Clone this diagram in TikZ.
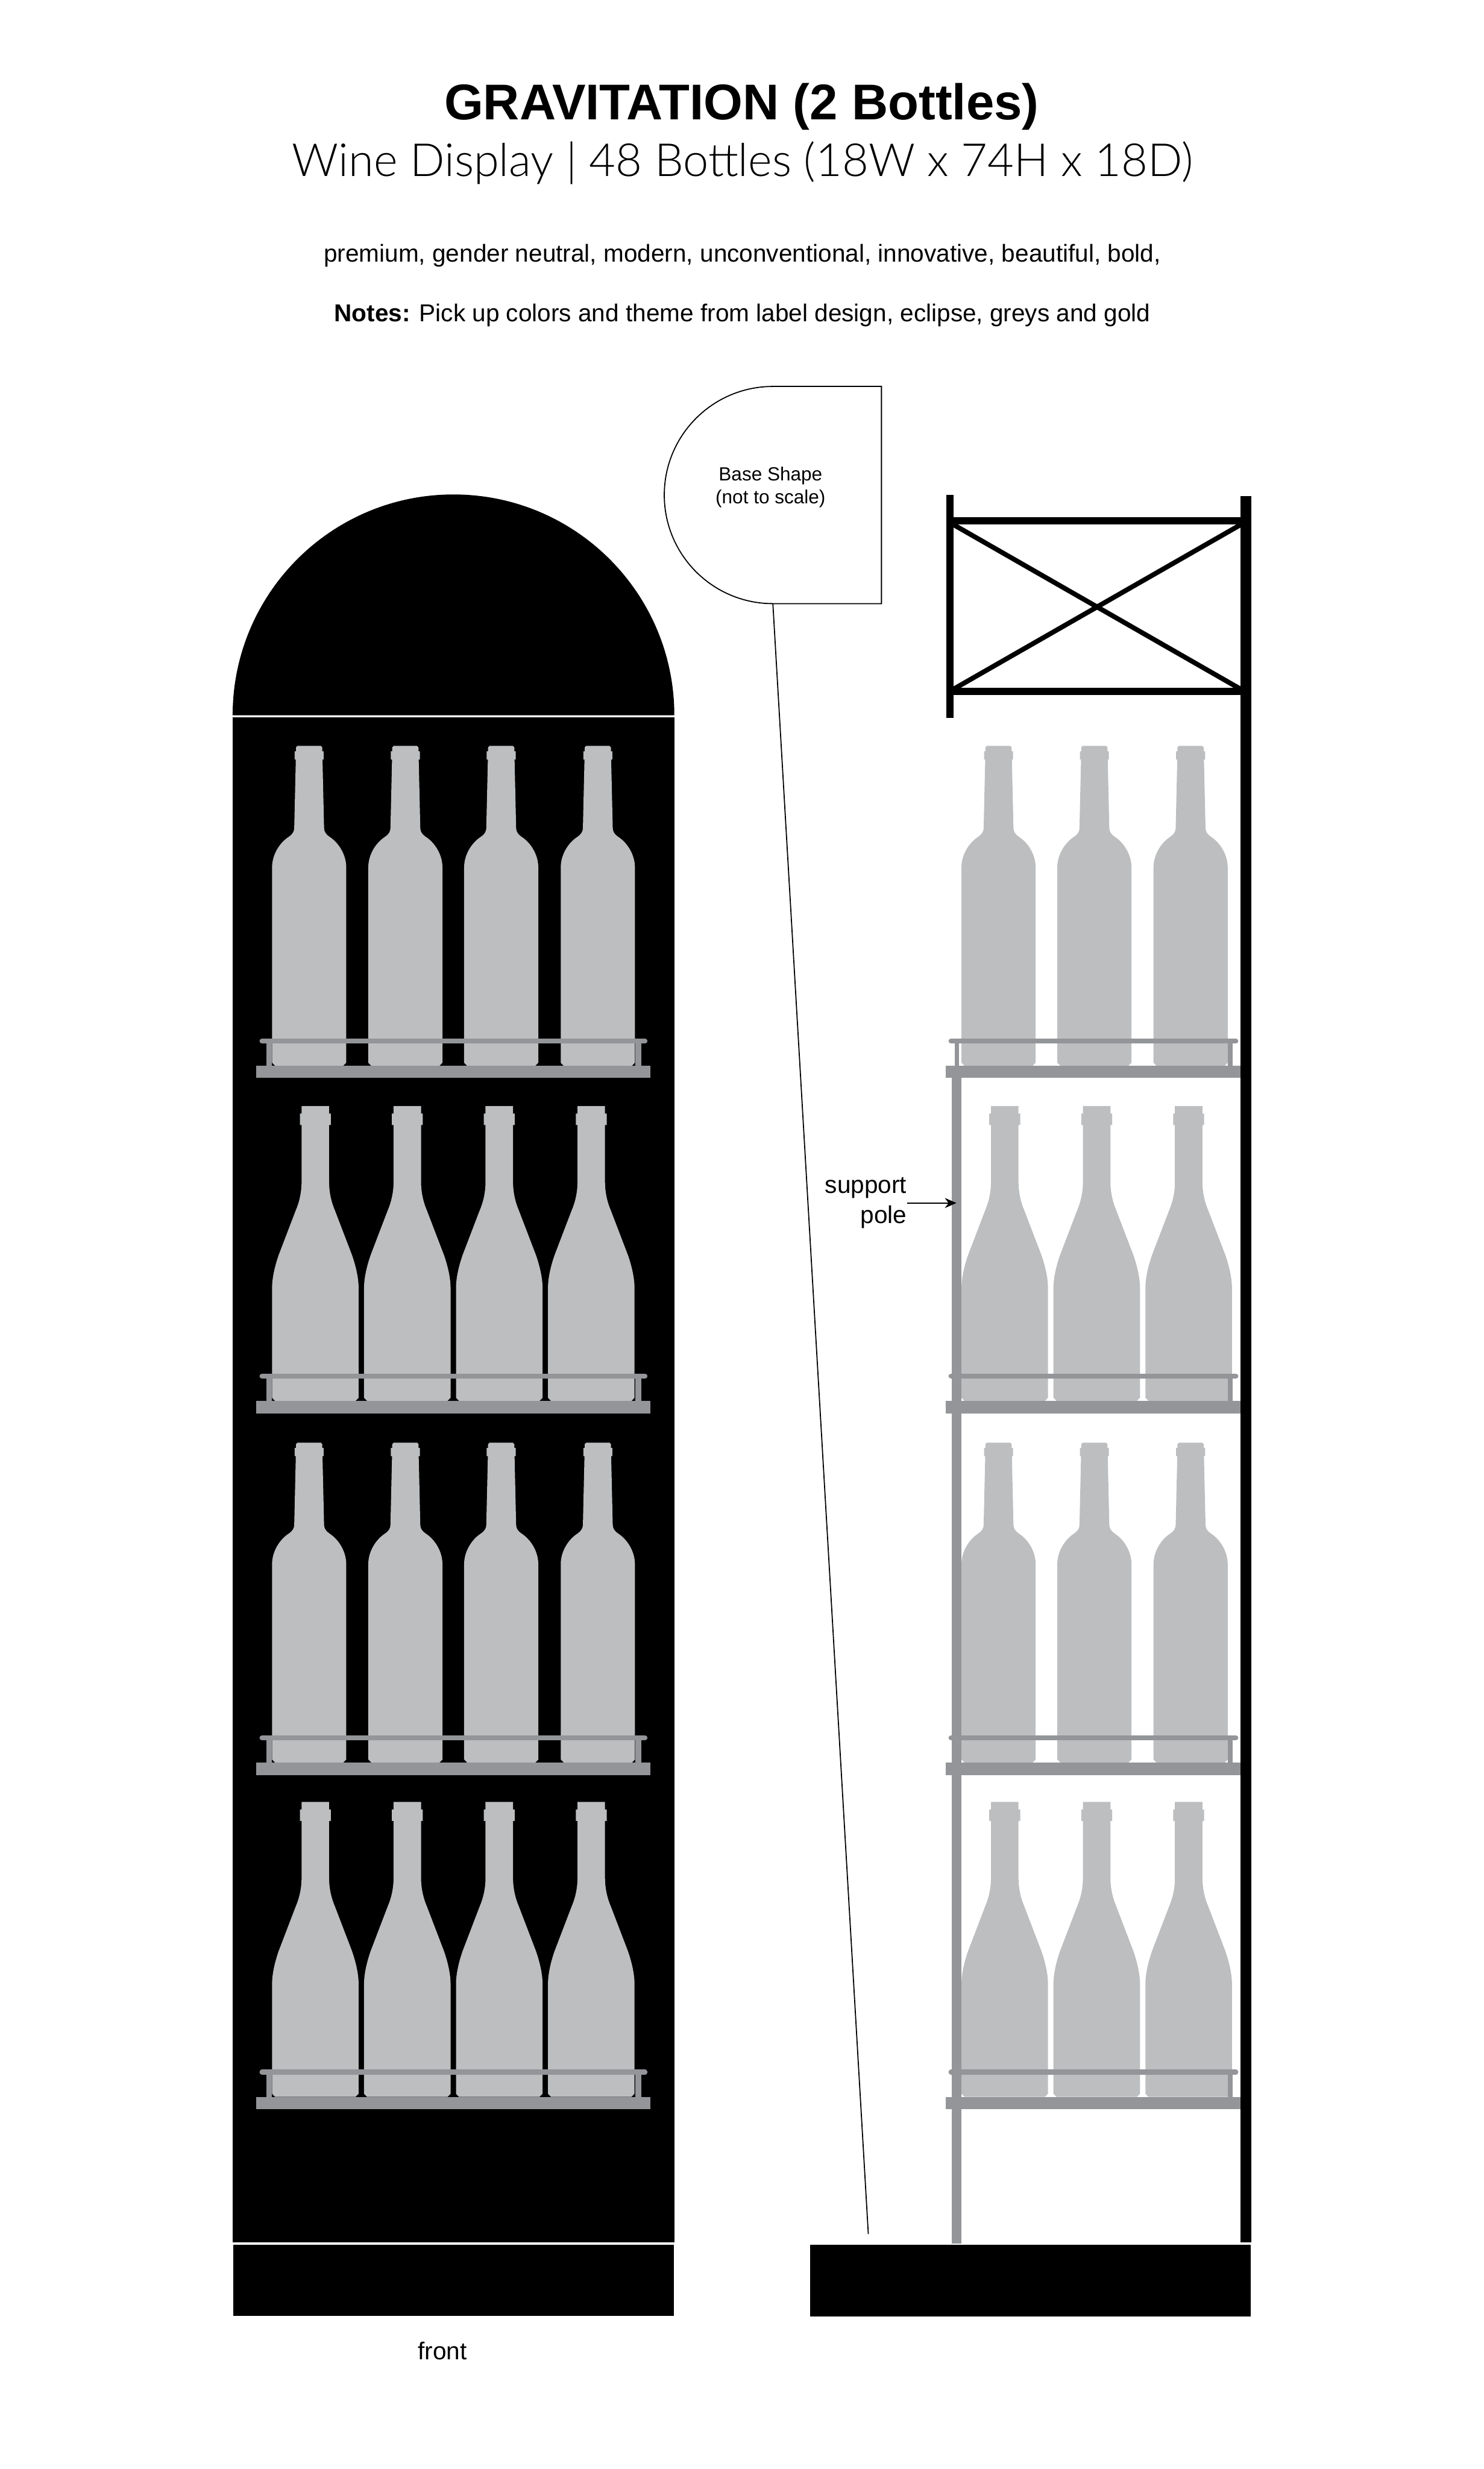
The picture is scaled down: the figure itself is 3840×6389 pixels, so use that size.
\documentclass[tikz,border=0pt]{standalone}
\usepackage{fontspec}
\setmainfont{Liberation Sans}
\newfontfamily\lightfont{Lato Light}
\usetikzlibrary{arrows.meta}

\definecolor{bottlegrey}{HTML}{BCBEC0}
\definecolor{shelfgrey}{HTML}{939598}

% one px of the sheet is 0.1mm, y runs down the page
\tikzset{
    thinline/.style={black,line width=0.28mm},
    railbar/.style={shelfgrey,line width=1.3mm,line cap=round},
    brace/.style={black,line width=1.25mm},
    headtext/.style={anchor=base,inner sep=0pt},
    smalltext/.style={font=\fontsize{18}{22}\selectfont,inner sep=0pt},
}

% #1 centre, #2 top
\newcommand{\slimbottle}[2]{
    \fill[bottlegrey,shift={(#1,#2)}] (-30,0) -- (30,0) -- (34,4) -- (34,14) -- (37.5,14) -- (37.5,35) -- (34.5,35)
        -- (38.6,213) .. controls (38.6,222) and (44,230) .. (53.6,236) .. controls (75,250) and (96,280) .. (96,315)
        -- (96,820) -- (88,828) -- (-88,828) -- (-96,820) -- (-96,315)
        .. controls (-96,280) and (-75,250) .. (-53.6,236) .. controls (-44,230) and (-38.6,222) .. (-38.6,213)
        -- (-34.5,35) -- (-37.5,35) -- (-37.5,14) -- (-34,14) -- (-34,4) -- cycle;
}
\newcommand{\widebottle}[2]{
    \fill[bottlegrey,shift={(#1,#2)}] (-35.6,0) -- (35.6,0) -- (35.6,19.5) -- (40,19.5) -- (40,49) -- (35.6,49) -- (35.6,196)
        .. controls (35.6,225) and (42,250) .. (51,271) -- (95,386) .. controls (105,415) and (112,445) .. (112,472)
        -- (112,755) -- (104,763) -- (-104,763) -- (-112,755) -- (-112,472)
        .. controls (-112,445) and (-105,415) .. (-95,386) -- (-51,271) .. controls (-42,250) and (-35.6,225) .. (-35.6,196)
        -- (-35.6,49) -- (-40,49) -- (-40,19.5) -- (-35.6,19.5) -- cycle;
}

\begin{document}
\begin{tikzpicture}[x=0.1mm,y=-0.1mm]
    \useasboundingbox (0,0) rectangle (3840,6389);

    % title block
    \node[headtext,font=\fontsize{37}{40}\selectfont\bfseries] (title) at (1919,310) {GRAVITATION (2 Bottles)};
    \node[headtext,font=\fontsize{33.6}{36}\selectfont\lightfont] (subtitle) at (1922,456) {Wine Display | 48 Bottles (18W x 74H x 18D)};
    \node[headtext,font=\fontsize{18}{22}\selectfont] (keywords) at (1921,678) {premium, gender neutral, modern, unconventional, innovative, beautiful, bold,};
    \node[headtext,font=\fontsize{18}{22}\selectfont] (notes) at (1921,832) {\textbf{Notes:} Pick up colors and theme from label design, eclipse, greys and gold};

    % front view
    \fill[black] (602,1851) arc (180:360:571.5) -- cycle;
    \fill[black] (602,1856) rectangle (1745,5802);
    \fill[black] (603,5809) rectangle (1744,5993);
    \foreach \cx in {800,1049,1297,1547} {
        \slimbottle{\cx}{1930}
        \slimbottle{\cx}{3733}
    }
    \foreach \cx in {816,1054,1292,1530} {
        \widebottle{\cx}{2862}
        \widebottle{\cx}{4663}
    }
    \foreach \shelftop/\shelfbot in {2758/2789,3625/3658,4561/4593,5426/5458} {
        \fill[shelfgrey] (689,\shelftop-64) rectangle (704,\shelftop);
        \fill[shelfgrey] (1644,\shelftop-64) rectangle (1660,\shelftop);
        \draw[railbar] (678,\shelftop-64) -- (1669,\shelftop-64);
        \fill[shelfgrey] (663,\shelftop) rectangle (1683,\shelfbot);
    }
    \node[smalltext,anchor=base] (front) at (1145,6106) {front};

    % side view
    \fill[black] (2096,5808) rectangle (3237,5994);
    \foreach \cx in {2584,2832,3081} {
        \slimbottle{\cx}{1930}
        \slimbottle{\cx}{3733}
    }
    \foreach \cx in {2600,2838,3076} {
        \widebottle{\cx}{2862}
        \widebottle{\cx}{4663}
    }
    \foreach \shelftop/\shelfbot in {2758/2789,3625/3658,4561/4593,5426/5458} {
        \fill[shelfgrey] (2470,\shelftop-64) rectangle (2482,\shelftop);
        \fill[shelfgrey] (3177,\shelftop-64) rectangle (3190,\shelftop);
        \draw[railbar] (2461,\shelftop-64) -- (3198,\shelftop-64);
        \fill[shelfgrey] (2447,\shelftop) rectangle (3211,\shelfbot);
    }
    \fill[shelfgrey] (2463,2789) rectangle (2488,5806);

    % top frame
    \draw[brace] (2468,1358) -- (3210,1783);
    \draw[brace] (2468,1783) -- (3210,1358);
    \fill[black] (2468,1338) rectangle (3210,1357);
    \fill[black] (2468,1780) rectangle (3210,1798);
    \fill[black] (2449,1280) rectangle (2468,1857);
    \fill[black] (3210,1283) rectangle (3238,5803);

    % base shape and its leader
    \draw[thinline] (2000,1000) arc (-90:-270:281) -- (2281,1562) -- (2281,1000) -- cycle;
    \node[font=\fontsize{14}{16.8}\selectfont,align=center,inner sep=0pt] (baseshape) at (1994,1261) {Base Shape\\(not to scale)};
    \coordinate (shapefoot) at (2000,1562);
    \coordinate (leaderend) at (2247,5781);
    \draw[thinline] (shapefoot) -- (leaderend);

    % pole label
    \node[smalltext,align=right,anchor=east] (polelabel) at (2347,3113) {support\\pole};
    \coordinate (polehit) at (2475,3113);
    \draw[-{Stealth[length=6mm*0.5,width=2.6mm]},black,line width=0.25mm] (polelabel.east) -- (polehit);
\end{tikzpicture}
\end{document}
